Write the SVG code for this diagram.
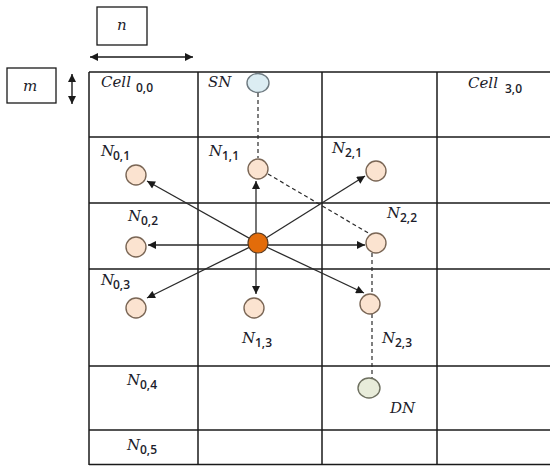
<svg xmlns="http://www.w3.org/2000/svg" width="550" height="466" viewBox="0 0 550 466">
  <style>
    .grid line { stroke: #1a1a1a; stroke-width: 1.5; }
    .box { fill: #ffffff; stroke: #1a1a1a; stroke-width: 1.3; }
    .lab { font-family: "DejaVu Serif", "Liberation Serif", serif; font-style: italic; font-size: 15px; fill: #1c1c2a; }
    .sub { font-family: "Open Sans", "Liberation Sans", sans-serif; font-style: normal; font-size: 12px; font-weight: 600; fill: #1c1c2a; }
    .node { fill: #fbe3d0; stroke: #7a6655; stroke-width: 1.4; }
    .src { fill: #dcedf3; stroke: #6e7a80; stroke-width: 1.4; }
    .dst { fill: #e8ecda; stroke: #6e7060; stroke-width: 1.4; }
    .ctr { fill: #e36c0a; stroke: #5a3a20; stroke-width: 1.2; }
    .arrow { stroke: #2a2a2a; stroke-width: 1.3; fill: none; marker-end: url(#head); }
    .dim { stroke: #1a1a1a; stroke-width: 1.4; fill: none; marker-start: url(#head); marker-end: url(#head); }
    .dash { stroke: #2a2a2a; stroke-width: 1.2; stroke-dasharray: 4 3; fill: none; }
  </style>
  <defs>
    <marker id="head" viewBox="0 0 10 10" refX="10" refY="5" markerWidth="10" markerHeight="8" markerUnits="userSpaceOnUse" orient="auto-start-reverse">
      <path d="M0,0 L10,5 L0,10 Z" fill="#1a1a1a"/>
    </marker>
  </defs>

  <rect width="550" height="466" fill="#ffffff"/>

  <!-- cell size legend -->
  <g id="legend-n">
    <rect class="box" x="97" y="7" width="50" height="38"/>
    <text class="lab" x="117" y="30">n</text>
    <line class="dim" x1="90" y1="57" x2="193" y2="57"/>
  </g>
  <g id="legend-m">
    <rect class="box" x="7" y="68" width="49" height="35"/>
    <text class="lab" x="23" y="91">m</text>
    <line class="dim" x1="72" y1="74" x2="72" y2="104"/>
  </g>

  <!-- cell grid -->
  <g id="grid" class="grid">
    <line x1="89" y1="72" x2="550" y2="72"/>
    <line x1="89" y1="137" x2="550" y2="137"/>
    <line x1="89" y1="203" x2="550" y2="203"/>
    <line x1="89" y1="269" x2="550" y2="269"/>
    <line x1="89" y1="366" x2="550" y2="366"/>
    <line x1="89" y1="430" x2="550" y2="430"/>
    <line x1="89" y1="464.5" x2="550" y2="464.5"/>
    <line x1="89" y1="72" x2="89" y2="465"/>
    <line x1="198" y1="72" x2="198" y2="465"/>
    <line x1="322" y1="72" x2="322" y2="465"/>
    <line x1="437" y1="72" x2="437" y2="465"/>
  </g>

  <!-- cell labels -->
  <g id="cell-labels">
    <text class="lab" x="101" y="87">Cell<tspan class="sub" x="136" dy="5">0,0</tspan></text>
    <text class="lab" x="468" y="88">Cell<tspan class="sub" x="505" dy="5">3,0</tspan></text>
  </g>

  <!-- connectors -->
  <g id="connectors">
    <line class="arrow" x1="258" y1="243" x2="147" y2="181"/>
    <line class="arrow" x1="256" y1="243" x2="256" y2="181"/>
    <line class="arrow" x1="258" y1="243" x2="365" y2="176"/>
    <line class="arrow" x1="258" y1="245" x2="148" y2="245"/>
    <line class="arrow" x1="258" y1="245" x2="365" y2="245"/>
    <line class="arrow" x1="258" y1="243" x2="147" y2="298"/>
    <line class="arrow" x1="256" y1="243" x2="256" y2="294"/>
    <line class="arrow" x1="258" y1="243" x2="364" y2="293"/>
    <line class="dash" x1="258" y1="93" x2="258" y2="158"/>
    <line class="dash" x1="268" y1="174" x2="370" y2="234"/>
    <line class="dash" x1="372" y1="253" x2="372" y2="295"/>
    <line class="dash" x1="372" y1="314" x2="372" y2="378"/>
  </g>

  <!-- nodes -->
  <g id="SN">
    <ellipse class="src" cx="258" cy="83" rx="11" ry="9.5"/>
    <text class="lab" x="208" y="87">SN</text>
  </g>
  <g id="N01">
    <circle class="node" cx="136" cy="175" r="10"/>
    <text class="lab" x="101" y="156">N<tspan class="sub" x="113" dy="4">0,1</tspan></text>
  </g>
  <g id="N11">
    <circle class="node" cx="258" cy="169" r="10"/>
    <text class="lab" x="209" y="156">N<tspan class="sub" x="222" dy="4">1,1</tspan></text>
  </g>
  <g id="N21">
    <circle class="node" cx="376" cy="171" r="10"/>
    <text class="lab" x="332" y="153">N<tspan class="sub" x="345" dy="4">2,1</tspan></text>
  </g>
  <g id="N02">
    <circle class="node" cx="136" cy="247" r="10"/>
    <text class="lab" x="128" y="221">N<tspan class="sub" x="141" dy="4">0,2</tspan></text>
  </g>
  <g id="N22">
    <circle class="node" cx="376" cy="243" r="10"/>
    <text class="lab" x="387" y="218">N<tspan class="sub" x="400" dy="4">2,2</tspan></text>
  </g>
  <g id="N03">
    <circle class="node" cx="136" cy="308" r="10"/>
    <text class="lab" x="101" y="285">N<tspan class="sub" x="113" dy="4">0,3</tspan></text>
  </g>
  <g id="N13">
    <circle class="node" cx="254" cy="308" r="10"/>
    <text class="lab" x="242" y="343">N<tspan class="sub" x="255" dy="4">1,3</tspan></text>
  </g>
  <g id="N23">
    <circle class="node" cx="370" cy="304" r="10"/>
    <text class="lab" x="382" y="343">N<tspan class="sub" x="395" dy="4">2,3</tspan></text>
  </g>
  <g id="N04">
    <text class="lab" x="127" y="385">N<tspan class="sub" x="140" dy="4">0,4</tspan></text>
  </g>
  <g id="N05">
    <text class="lab" x="127" y="450">N<tspan class="sub" x="140" dy="4">0,5</tspan></text>
  </g>
  <g id="DN">
    <ellipse class="dst" cx="369" cy="388" rx="11" ry="10"/>
    <text class="lab" x="390" y="413">DN</text>
  </g>
  <g id="current">
    <circle class="ctr" cx="258" cy="243" r="10"/>
  </g>
</svg>
